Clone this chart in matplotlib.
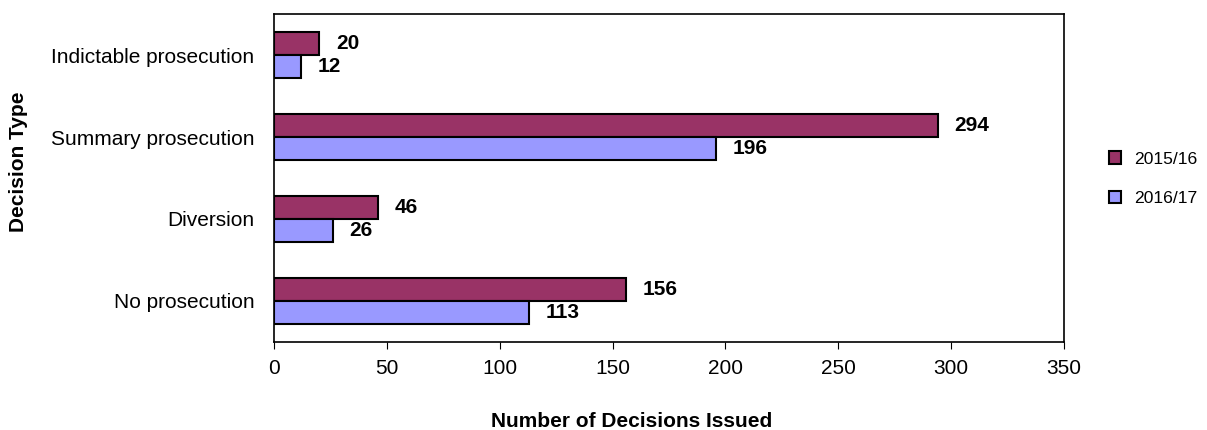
import matplotlib
matplotlib.use("Agg")
from matplotlib import pyplot as plt
from matplotlib.patches import Patch
import numpy as np

plt.rcParams['font.family'] = ['Liberation Sans', 'DejaVu Sans']

# Data
categories = ["No prosecution", "Diversion", "Summary prosecution", "Indictable prosecution"]
series_names = ["2015/16", "2016/17"]
values_1516 = [156, 46, 294, 20]
values_1617 = [113, 26, 196, 12]
colors = ["#993366", "#9999FF"]

fig = plt.figure(figsize=(12.07, 4.3), dpi=100)
ax = fig.add_axes([0.227, 0.2047, 0.6545, 0.7627])

y = np.arange(len(categories))
h = 0.28
b1 = ax.barh(y + h / 2, values_1516, height=h, color=colors[0], edgecolor="black", linewidth=1.5)
b2 = ax.barh(y - h / 2, values_1617, height=h, color=colors[1], edgecolor="black", linewidth=1.5)

for bars in (b1, b2):
    for rect in bars:
        w = rect.get_width()
        ax.annotate(str(int(w)), (w, rect.get_y() + rect.get_height() / 2),
                    xytext=(12, 0), textcoords="offset points", ha="left", va="center",
                    fontsize=15, fontweight="bold")

ax.set_xlim(0, 350)
ax.set_ylim(-0.5, 3.5)
ax.set_xticks(range(0, 351, 50))
ax.set_yticks(y)
ax.set_yticklabels(categories)
ax.tick_params(axis="y", length=0, pad=14, labelsize=15)
ax.tick_params(axis="x", length=5, labelsize=15, pad=7)
for s in ax.spines.values():
    s.set_linewidth(1.2)

ax.set_xlabel("Number of Decisions Issued", fontsize=15, fontweight="bold")
ax.set_ylabel("Decision Type", fontsize=15, fontweight="bold")
ax.xaxis.set_label_coords(0.453, -0.212)
ax.yaxis.set_label_coords(-0.312, 0.549)

handles = [Patch(facecolor=c, edgecolor="black", linewidth=1.5) for c in colors]
fig.legend(handles, series_names, loc="center left", bbox_to_anchor=(0.919, 0.584),
           frameon=False, fontsize=12.6, handlelength=0.7, handleheight=0.7,
           labelspacing=1.4, handletextpad=0.75, borderpad=0, borderaxespad=0)

fig.savefig("out.png", dpi=100)
